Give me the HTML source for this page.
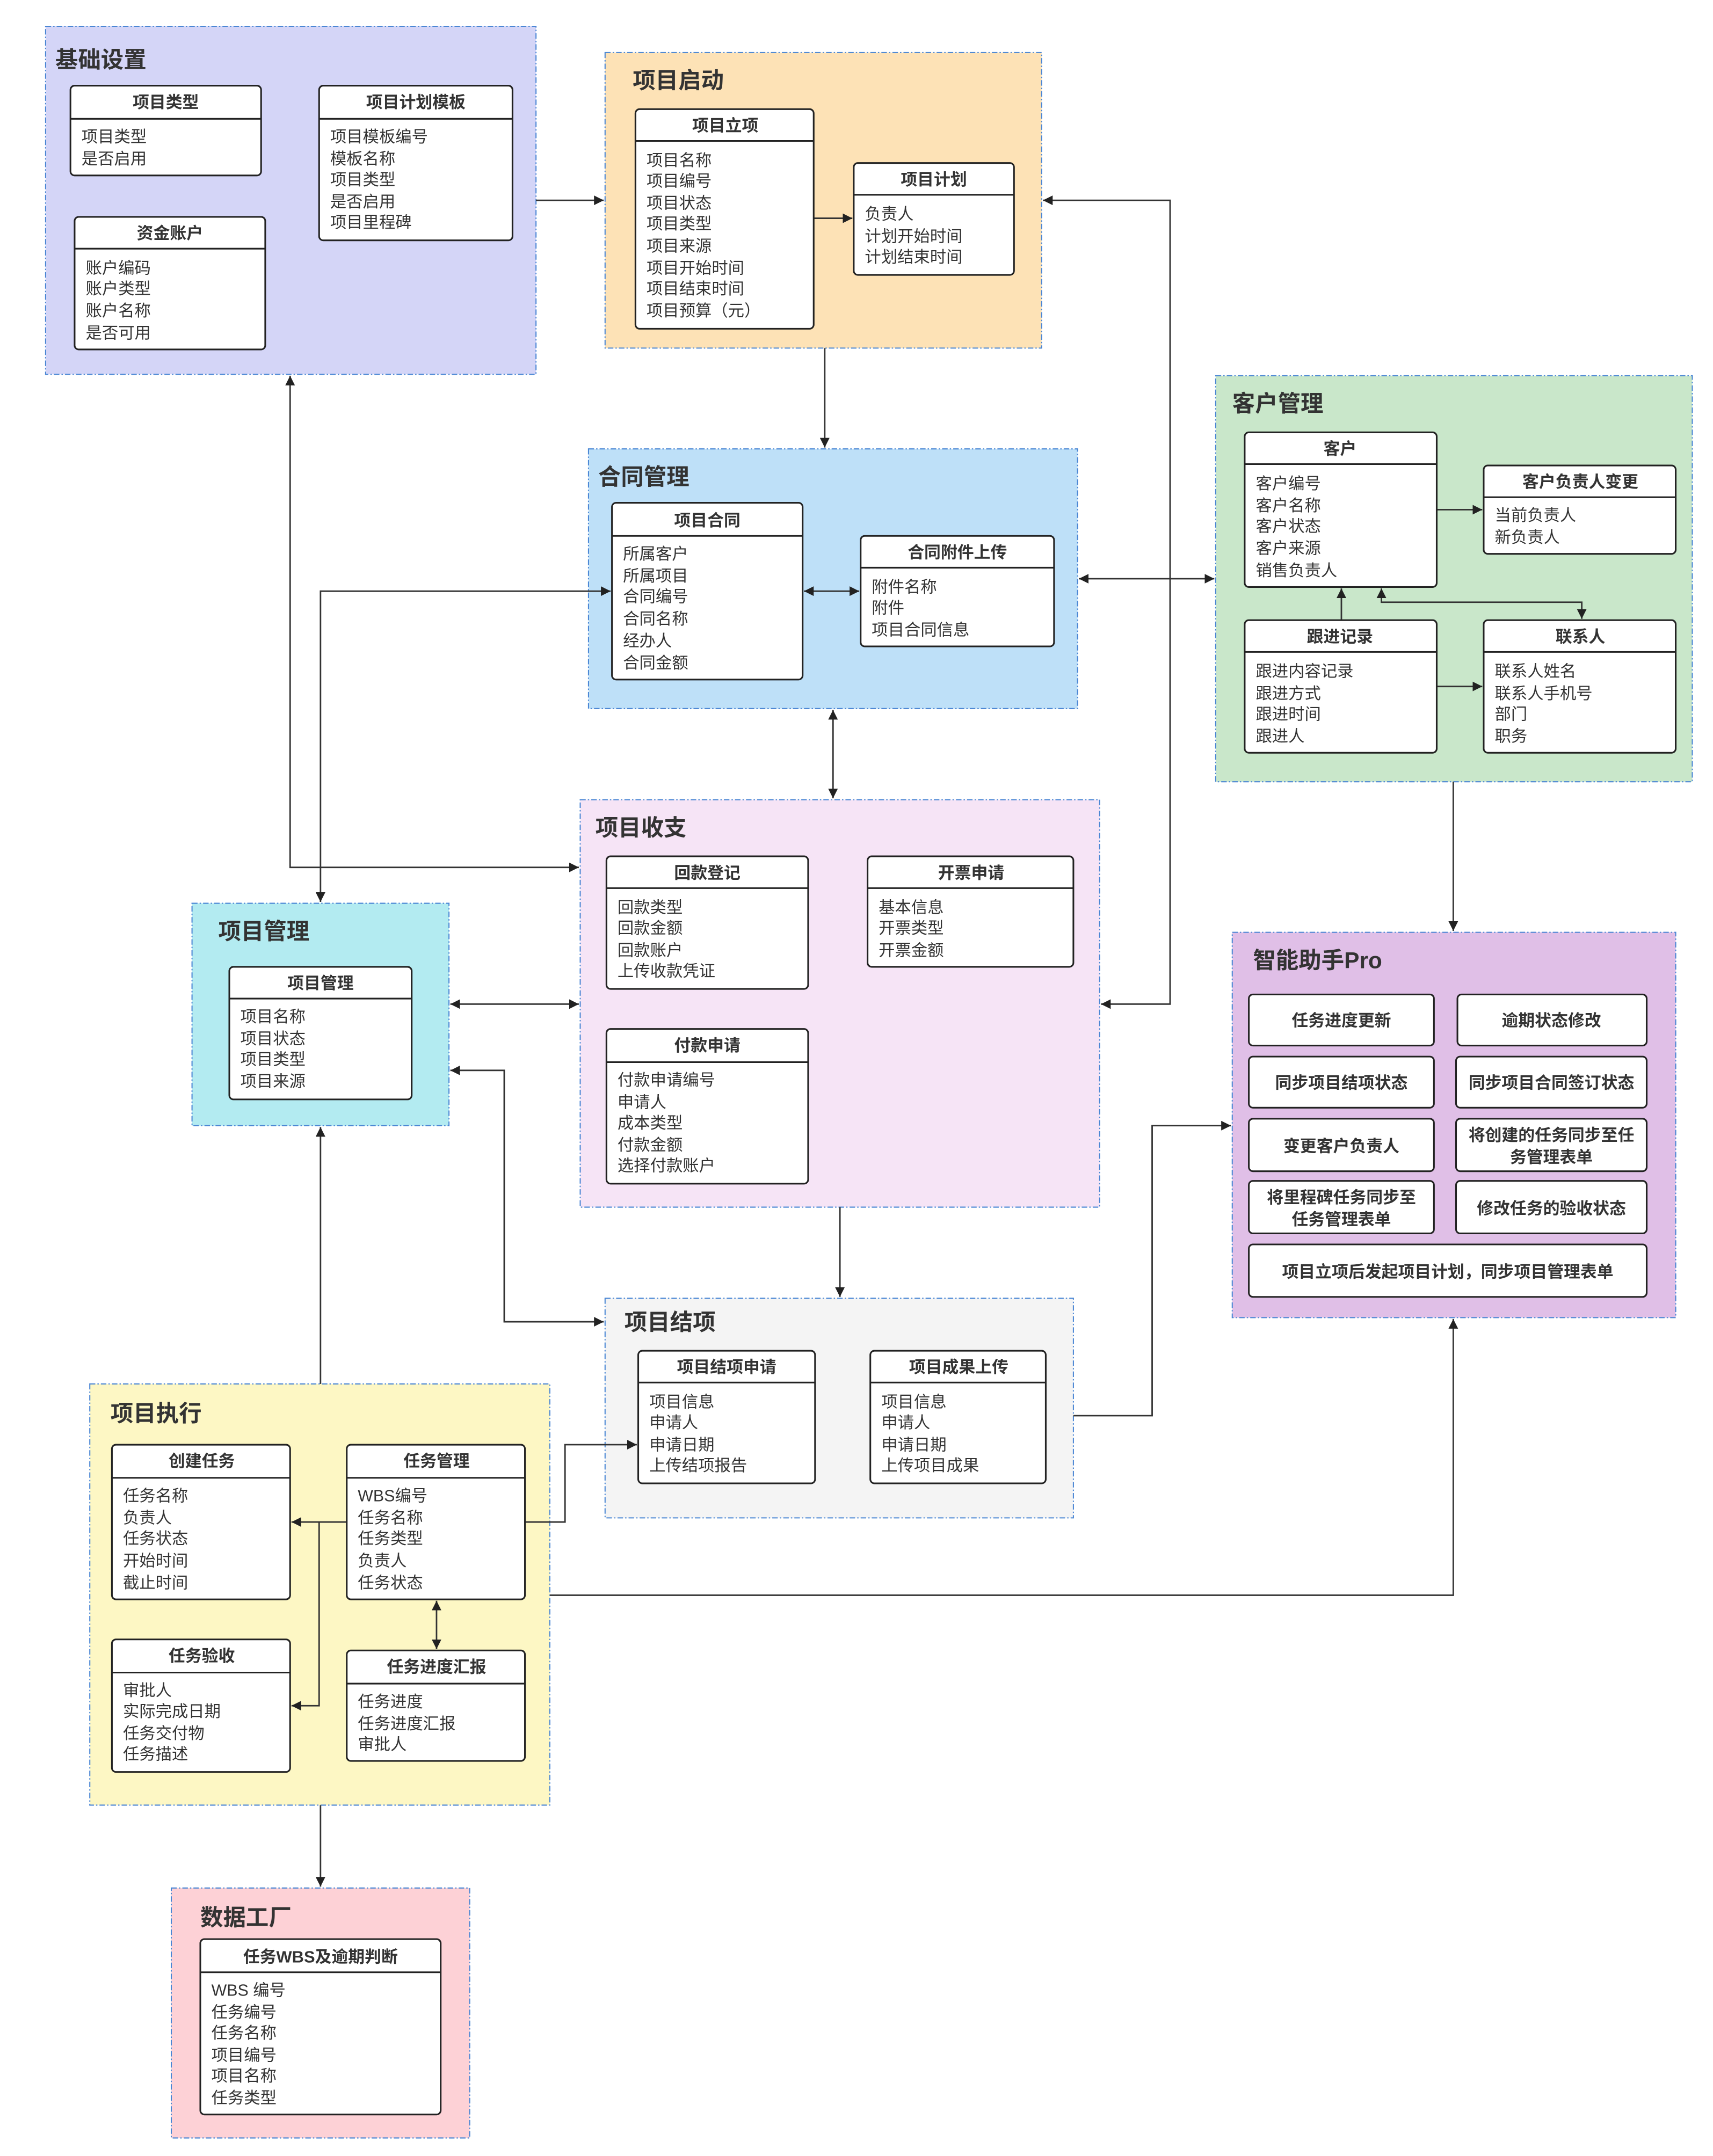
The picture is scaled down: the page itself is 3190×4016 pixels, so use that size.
<!DOCTYPE html>
<html><head><meta charset="utf-8"><style>
html,body{margin:0;padding:0;background:#fff;}
svg{display:block;}
text{font-family:"Liberation Sans","Noto Sans CJK SC",sans-serif;fill:#333;}
.t{font-size:16.5px;font-weight:bold;}
.h{font-size:12px;font-weight:bold;text-anchor:middle;}
.b{font-size:11.8px;}
.c{fill-opacity:1;stroke:#4a86d4;stroke-width:0.8;stroke-dasharray:4 1.5 1 1.5;}
.tb{fill:#fff;stroke:#222;stroke-width:1.2;}
.ln{stroke:#222;stroke-width:1.2;}
.cn{fill:none;stroke:#333;stroke-width:1.1;}
</style></head><body>
<svg width="3190" height="4016" viewBox="0 0 1240 1561" xmlns="http://www.w3.org/2000/svg">
<defs>
<marker id="a" viewBox="0 0 10 10" refX="10" refY="5" markerWidth="7" markerHeight="7" markerUnits="userSpaceOnUse" orient="auto-start-reverse"><path d="M0,0 L10,5 L0,10 z" fill="#222"/></marker>
</defs>
<rect width="1240" height="1561" fill="#fff"/>

<!-- containers -->
<rect class="c" x="33" y="19" width="355" height="252" fill="#d4d5f7"/>
<text class="t" x="40" y="49">基础设置</text>
<rect class="c" x="438" y="38" width="316" height="214" fill="#fde2b6"/>
<text class="t" x="458" y="64">项目启动</text>
<rect class="c" x="426" y="325" width="354" height="188" fill="#bee0f8"/>
<text class="t" x="433" y="351">合同管理</text>
<rect class="c" x="880" y="272" width="345" height="294" fill="#c9e7ca"/>
<text class="t" x="892" y="298">客户管理</text>
<rect class="c" x="420" y="579" width="376" height="295" fill="#f6e4f6"/>
<text class="t" x="431" y="605">项目收支</text>
<rect class="c" x="139" y="654" width="186" height="161" fill="#b3ebf1"/>
<text class="t" x="158" y="680">项目管理</text>
<rect class="c" x="892" y="675" width="321" height="279" fill="#e0bfe7"/>
<text class="t" x="907" y="701">智能助手Pro</text>
<rect class="c" x="438" y="940" width="339" height="159" fill="#f4f4f4"/>
<text class="t" x="452" y="963">项目结项</text>
<rect class="c" x="65" y="1002" width="333" height="305" fill="#fdf7c4"/>
<text class="t" x="80" y="1029">项目执行</text>
<rect class="c" x="124" y="1367" width="216" height="181" fill="#fdd1d6"/>
<text class="t" x="145" y="1394">数据工厂</text>

<!-- connectors -->
<g class="cn">
<path d="M388,145 H437" marker-end="url(#a)"/>
<path d="M597,252 V324" marker-end="url(#a)"/>
<path d="M781,419 H879" marker-start="url(#a)" marker-end="url(#a)"/>
<path d="M603,514 V578" marker-start="url(#a)" marker-end="url(#a)"/>
<path d="M1052,566 V674" marker-end="url(#a)"/>
<path d="M755,145 H847 V727 H797" marker-start="url(#a)" marker-end="url(#a)"/>
<path d="M210,272 V628 H419" marker-start="url(#a)" marker-end="url(#a)"/>
<path d="M442,428 H232 V653" marker-start="url(#a)" marker-end="url(#a)"/>
<path d="M326,727 H419" marker-start="url(#a)" marker-end="url(#a)"/>
<path d="M326,775 H365 V957 H437" marker-start="url(#a)" marker-end="url(#a)"/>
<path d="M608,874 V939" marker-end="url(#a)"/>
<path d="M777,1025 H834 V815 H891" marker-end="url(#a)"/>
<path d="M380,1102 H409 V1046 H461" marker-end="url(#a)"/>
<path d="M232,1002 V816" marker-end="url(#a)"/>
<path d="M232,1307 V1366" marker-end="url(#a)"/>
<path d="M398,1155 H1052 V955" marker-end="url(#a)"/>
<!-- inner -->
<path d="M589,158 H617" marker-end="url(#a)"/>
<path d="M582,428 H622" marker-start="url(#a)" marker-end="url(#a)"/>
<path d="M1040,369 H1073" marker-end="url(#a)"/>
<path d="M971,449 V426" marker-end="url(#a)"/>
<path d="M1040,497 H1073" marker-end="url(#a)"/>
<path d="M1000,426 V436 H1145 V448" marker-start="url(#a)" marker-end="url(#a)"/>
<path d="M251,1102 H211" marker-end="url(#a)"/>
<path d="M231,1102 V1235 H211" marker-end="url(#a)"/>
<path d="M316,1159 V1194" marker-start="url(#a)" marker-end="url(#a)"/>
</g>

<!-- tables -->
<g>
<rect class="tb" x="51" y="62" width="138" height="65" rx="3"/><line class="ln" x1="51" y1="86" x2="189" y2="86"/>
<text class="h" x="120" y="78">项目类型</text>
<text class="b" x="59" y="103">项目类型</text><text class="b" x="59" y="119">是否启用</text>

<rect class="tb" x="231" y="62" width="140" height="112" rx="3"/><line class="ln" x1="231" y1="86" x2="371" y2="86"/>
<text class="h" x="301" y="78">项目计划模板</text>
<text class="b" x="239" y="103">项目模板编号</text><text class="b" x="239" y="119">模板名称</text><text class="b" x="239" y="134">项目类型</text><text class="b" x="239" y="150">是否启用</text><text class="b" x="239" y="165">项目里程碑</text>

<rect class="tb" x="54" y="157" width="138" height="96" rx="3"/><line class="ln" x1="54" y1="180" x2="192" y2="180"/>
<text class="h" x="123" y="173">资金账户</text>
<text class="b" x="62" y="198">账户编码</text><text class="b" x="62" y="213">账户类型</text><text class="b" x="62" y="229">账户名称</text><text class="b" x="62" y="245">是否可用</text>

<rect class="tb" x="460" y="79" width="129" height="159" rx="3"/><line class="ln" x1="460" y1="102" x2="589" y2="102"/>
<text class="h" x="525" y="95">项目立项</text>
<text class="b" x="468" y="120">项目名称</text><text class="b" x="468" y="135">项目编号</text><text class="b" x="468" y="151">项目状态</text><text class="b" x="468" y="166">项目类型</text><text class="b" x="468" y="182">项目来源</text><text class="b" x="468" y="198">项目开始时间</text><text class="b" x="468" y="213">项目结束时间</text><text class="b" x="468" y="229">项目预算（元）</text>

<rect class="tb" x="618" y="118" width="116" height="81" rx="3"/><line class="ln" x1="618" y1="141" x2="734" y2="141"/>
<text class="h" x="676" y="134">项目计划</text>
<text class="b" x="626" y="159">负责人</text><text class="b" x="626" y="175">计划开始时间</text><text class="b" x="626" y="190">计划结束时间</text>

<rect class="tb" x="443" y="364" width="138" height="128" rx="3"/><line class="ln" x1="443" y1="388" x2="581" y2="388"/>
<text class="h" x="512" y="381">项目合同</text>
<text class="b" x="451" y="405">所属客户</text><text class="b" x="451" y="421">所属项目</text><text class="b" x="451" y="436">合同编号</text><text class="b" x="451" y="452">合同名称</text><text class="b" x="451" y="468">经办人</text><text class="b" x="451" y="484">合同金额</text>

<rect class="tb" x="623" y="388" width="140" height="80" rx="3"/><line class="ln" x1="623" y1="411" x2="763" y2="411"/>
<text class="h" x="693" y="404">合同附件上传</text>
<text class="b" x="631" y="429">附件名称</text><text class="b" x="631" y="444">附件</text><text class="b" x="631" y="460">项目合同信息</text>

<rect class="tb" x="901" y="313" width="139" height="112" rx="3"/><line class="ln" x1="901" y1="336" x2="1040" y2="336"/>
<text class="h" x="970" y="329">客户</text>
<text class="b" x="909" y="354">客户编号</text><text class="b" x="909" y="370">客户名称</text><text class="b" x="909" y="385">客户状态</text><text class="b" x="909" y="401">客户来源</text><text class="b" x="909" y="417">销售负责人</text>

<rect class="tb" x="1074" y="337" width="139" height="64" rx="3"/><line class="ln" x1="1074" y1="360" x2="1213" y2="360"/>
<text class="h" x="1144" y="353">客户负责人变更</text>
<text class="b" x="1082" y="377">当前负责人</text><text class="b" x="1082" y="393">新负责人</text>

<rect class="tb" x="901" y="449" width="139" height="96" rx="3"/><line class="ln" x1="901" y1="472" x2="1040" y2="472"/>
<text class="h" x="970" y="465">跟进记录</text>
<text class="b" x="909" y="490">跟进内容记录</text><text class="b" x="909" y="506">跟进方式</text><text class="b" x="909" y="521">跟进时间</text><text class="b" x="909" y="537">跟进人</text>

<rect class="tb" x="1074" y="449" width="139" height="96" rx="3"/><line class="ln" x1="1074" y1="472" x2="1213" y2="472"/>
<text class="h" x="1144" y="465">联系人</text>
<text class="b" x="1082" y="490">联系人姓名</text><text class="b" x="1082" y="506">联系人手机号</text><text class="b" x="1082" y="521">部门</text><text class="b" x="1082" y="537">职务</text>

<rect class="tb" x="439" y="620" width="146" height="96" rx="3"/><line class="ln" x1="439" y1="643" x2="585" y2="643"/>
<text class="h" x="512" y="636">回款登记</text>
<text class="b" x="447" y="661">回款类型</text><text class="b" x="447" y="676">回款金额</text><text class="b" x="447" y="692">回款账户</text><text class="b" x="447" y="707">上传收款凭证</text>

<rect class="tb" x="628" y="620" width="149" height="80" rx="3"/><line class="ln" x1="628" y1="643" x2="777" y2="643"/>
<text class="h" x="703" y="636">开票申请</text>
<text class="b" x="636" y="661">基本信息</text><text class="b" x="636" y="676">开票类型</text><text class="b" x="636" y="692">开票金额</text>

<rect class="tb" x="439" y="745" width="146" height="112" rx="3"/><line class="ln" x1="439" y1="769" x2="585" y2="769"/>
<text class="h" x="512" y="761">付款申请</text>
<text class="b" x="447" y="786">付款申请编号</text><text class="b" x="447" y="802">申请人</text><text class="b" x="447" y="817">成本类型</text><text class="b" x="447" y="833">付款金额</text><text class="b" x="447" y="848">选择付款账户</text>

<rect class="tb" x="166" y="700" width="132" height="96" rx="3"/><line class="ln" x1="166" y1="723" x2="298" y2="723"/>
<text class="h" x="232" y="716">项目管理</text>
<text class="b" x="174" y="740">项目名称</text><text class="b" x="174" y="756">项目状态</text><text class="b" x="174" y="771">项目类型</text><text class="b" x="174" y="787">项目来源</text>

<rect class="tb" x="462" y="978" width="128" height="96" rx="3"/><line class="ln" x1="462" y1="1001" x2="590" y2="1001"/>
<text class="h" x="526" y="994">项目结项申请</text>
<text class="b" x="470" y="1019">项目信息</text><text class="b" x="470" y="1034">申请人</text><text class="b" x="470" y="1050">申请日期</text><text class="b" x="470" y="1065">上传结项报告</text>

<rect class="tb" x="630" y="978" width="127" height="96" rx="3"/><line class="ln" x1="630" y1="1001" x2="757" y2="1001"/>
<text class="h" x="694" y="994">项目成果上传</text>
<text class="b" x="638" y="1019">项目信息</text><text class="b" x="638" y="1034">申请人</text><text class="b" x="638" y="1050">申请日期</text><text class="b" x="638" y="1065">上传项目成果</text>

<rect class="tb" x="81" y="1046" width="129" height="112" rx="3"/><line class="ln" x1="81" y1="1070" x2="210" y2="1070"/>
<text class="h" x="146" y="1062">创建任务</text>
<text class="b" x="89" y="1087">任务名称</text><text class="b" x="89" y="1103">负责人</text><text class="b" x="89" y="1118">任务状态</text><text class="b" x="89" y="1134">开始时间</text><text class="b" x="89" y="1150">截止时间</text>

<rect class="tb" x="251" y="1046" width="129" height="112" rx="3"/><line class="ln" x1="251" y1="1070" x2="380" y2="1070"/>
<text class="h" x="316" y="1062">任务管理</text>
<text class="b" x="259" y="1087">WBS编号</text><text class="b" x="259" y="1103">任务名称</text><text class="b" x="259" y="1118">任务类型</text><text class="b" x="259" y="1134">负责人</text><text class="b" x="259" y="1150">任务状态</text>

<rect class="tb" x="81" y="1187" width="129" height="96" rx="3"/><line class="ln" x1="81" y1="1211" x2="210" y2="1211"/>
<text class="h" x="146" y="1203">任务验收</text>
<text class="b" x="89" y="1228">审批人</text><text class="b" x="89" y="1243">实际完成日期</text><text class="b" x="89" y="1259">任务交付物</text><text class="b" x="89" y="1274">任务描述</text>

<rect class="tb" x="251" y="1195" width="129" height="80" rx="3"/><line class="ln" x1="251" y1="1219" x2="380" y2="1219"/>
<text class="h" x="316" y="1211">任务进度汇报</text>
<text class="b" x="259" y="1236">任务进度</text><text class="b" x="259" y="1252">任务进度汇报</text><text class="b" x="259" y="1267">审批人</text>

<rect class="tb" x="145" y="1404" width="174" height="127" rx="3"/><line class="ln" x1="145" y1="1428" x2="319" y2="1428"/>
<text class="h" x="232" y="1421">任务WBS及逾期判断</text>
<text class="b" x="153" y="1445">WBS 编号</text><text class="b" x="153" y="1461">任务编号</text><text class="b" x="153" y="1476">任务名称</text><text class="b" x="153" y="1492">项目编号</text><text class="b" x="153" y="1507">项目名称</text><text class="b" x="153" y="1523">任务类型</text>
</g>

<!-- assistant buttons -->
<g>
<rect class="tb" x="904" y="720" width="134" height="37" rx="3"/><text class="h" x="971" y="743">任务进度更新</text>
<rect class="tb" x="1055" y="720" width="137" height="37" rx="3"/><text class="h" x="1123" y="743">逾期状态修改</text>
<rect class="tb" x="904" y="765" width="134" height="37" rx="3"/><text class="h" x="971" y="788">同步项目结项状态</text>
<rect class="tb" x="1054" y="765" width="138" height="37" rx="3"/><text class="h" x="1123" y="788">同步项目合同签订状态</text>
<rect class="tb" x="904" y="810" width="134" height="38" rx="3"/><text class="h" x="971" y="834">变更客户负责人</text>
<rect class="tb" x="1054" y="810" width="138" height="38" rx="3"/><text class="h" x="1123" y="826">将创建的任务同步至任</text><text class="h" x="1123" y="842">务管理表单</text>
<rect class="tb" x="904" y="855" width="134" height="38" rx="3"/><text class="h" x="971" y="871">将里程碑任务同步至</text><text class="h" x="971" y="887">任务管理表单</text>
<rect class="tb" x="1054" y="855" width="138" height="38" rx="3"/><text class="h" x="1123" y="879">修改任务的验收状态</text>
<rect class="tb" x="904" y="901" width="288" height="38" rx="3"/><text class="h" x="1048" y="925">项目立项后发起项目计划，同步项目管理表单</text>
</g>
</svg>
</body></html>
